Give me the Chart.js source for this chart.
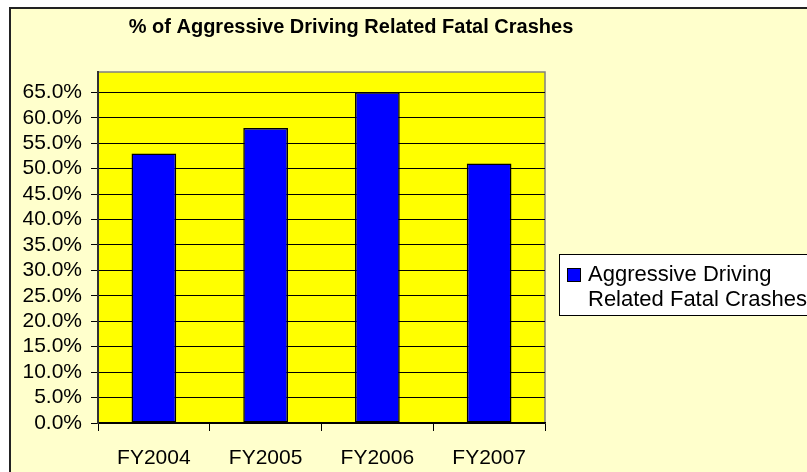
<!DOCTYPE html>
<html>
<head>
<meta charset="utf-8">
<script src="https://cdn.jsdelivr.net/npm/chart.js@4/dist/chart.umd.min.js"></script>
<style>
    html, body { margin: 0; padding: 0; background: #ffffff; overflow: hidden; }
    #frame {
        position: absolute; left: 9px; top: 7px;
        width: 796px; height: 463px;
        border-top: 2px solid #222; border-left: 2px solid #222;
        background: #ffffcc;
    }
    #chart { display: block; }
</style>
</head>
<body>
<div id="frame"><canvas id="chart" width="796" height="463"></canvas></div>
<script>
const TITLE = '% of Aggressive Driving Related Fatal Crashes';
const CATEGORIES = ['FY2004', 'FY2005', 'FY2006', 'FY2007'];
const SERIES_LABEL = 'Aggressive Driving Related Fatal Crashes';
const SERIES_VALUES = [53, 58, 65, 51];
const Y_MAX = 69;
const Y_STEP = 5;

const FONT = '"Liberation Sans", Arial, sans-serif';
const BAR_COLOR = '#0000ff';

// yellow plot area with grey frame, painted before the grid
const plotBackground = {
    id: 'plotBackground',
    beforeDraw(chart) {
        const {ctx, chartArea: a} = chart;
        ctx.save();
        ctx.fillStyle = '#ffff00';
        ctx.fillRect(a.left, a.top, a.right - a.left, a.bottom - a.top);
        ctx.strokeStyle = '#808080';
        ctx.lineWidth = 1.5;
        ctx.strokeRect(a.left, a.top, a.right - a.left, a.bottom - a.top);
        ctx.restore();
    }
};

// excel-like boxed legend with wrapped text
const boxLegend = {
    id: 'boxLegend',
    afterDraw(chart) {
        const ctx = chart.ctx;
        const ds = chart.data.datasets[0];
        ctx.save();
        ctx.font = '22px ' + FONT;
        const words = ds.label.split(' ');
        const lines = [];
        let line = '';
        words.forEach(w => {
            const test = line ? line + ' ' + w : w;
            if (line && ctx.measureText(test).width > 235) {
                lines.push(line);
                line = w;
            } else {
                line = test;
            }
        });
        lines.push(line);

        const x = 548, y = 245.5, h = 61;
        ctx.fillStyle = '#ffffff';
        ctx.fillRect(x, y, 300, h);
        ctx.strokeStyle = '#000';
        ctx.lineWidth = 1;
        ctx.strokeRect(x + 0.5, y, 300, h);

        ctx.fillStyle = ds.backgroundColor;
        ctx.fillRect(556, 259, 14, 14);
        ctx.strokeRect(556.5, 259.5, 13, 13);

        ctx.fillStyle = '#000';
        ctx.textBaseline = 'middle';
        ctx.textAlign = 'left';
        lines.forEach((l, i) => ctx.fillText(l, 577, 266 + i * 25));
        ctx.restore();
    }
};

new Chart(document.getElementById('chart'), {
    type: 'bar',
    data: {
        labels: CATEGORIES,
        datasets: [{
            label: SERIES_LABEL,
            data: SERIES_VALUES,
            backgroundColor: BAR_COLOR,
            borderColor: '#000',
            borderWidth: 1.5,
            borderSkipped: false,
            categoryPercentage: 1,
            barPercentage: 0.4
        }]
    },
    options: {
        responsive: false,
        animation: false,
        layout: { padding: { left: 0, right: 116, top: 0, bottom: 0 } },
        plugins: {
            legend: { display: false },
            tooltip: { enabled: false },
            title: {
                display: true,
                text: TITLE,
                color: '#000',
                font: { family: FONT, size: 20, weight: 'bold' },
                padding: { top: 6, bottom: 33 }
            }
        },
        scales: {
            x: {
                grid: {
                    display: true,
                    drawOnChartArea: false,
                    drawTicks: true,
                    tickLength: 8,
                    offset: true,
                    color: '#000'
                },
                border: { display: true, color: '#000', width: 1.5 },
                ticks: {
                    color: '#000',
                    font: { family: FONT, size: 21 },
                    padding: 15,
                    maxRotation: 0,
                    autoSkip: false
                },
                afterFit(scale) { scale.height = 49; }
            },
            y: {
                min: 0,
                max: Y_MAX,
                grid: { color: '#000', lineWidth: 1, tickLength: 7 },
                border: { display: true, color: '#333', width: 2 },
                ticks: {
                    stepSize: Y_STEP,
                    includeBounds: false,
                    autoSkip: false,
                    color: '#000',
                    padding: 9,
                    font: { family: FONT, size: 21 },
                    callback: v => v.toFixed(1) + '%'
                },
                afterFit(scale) { scale.width = 87; }
            },
            spacer: {
                type: 'linear',
                position: 'right',
                display: true,
                grid: { display: false },
                border: { display: false },
                ticks: { display: false },
                afterFit(scale) { scale.width = 146; }
            }
        }
    },
    plugins: [plotBackground, boxLegend]
});
</script>
</body>
</html>
